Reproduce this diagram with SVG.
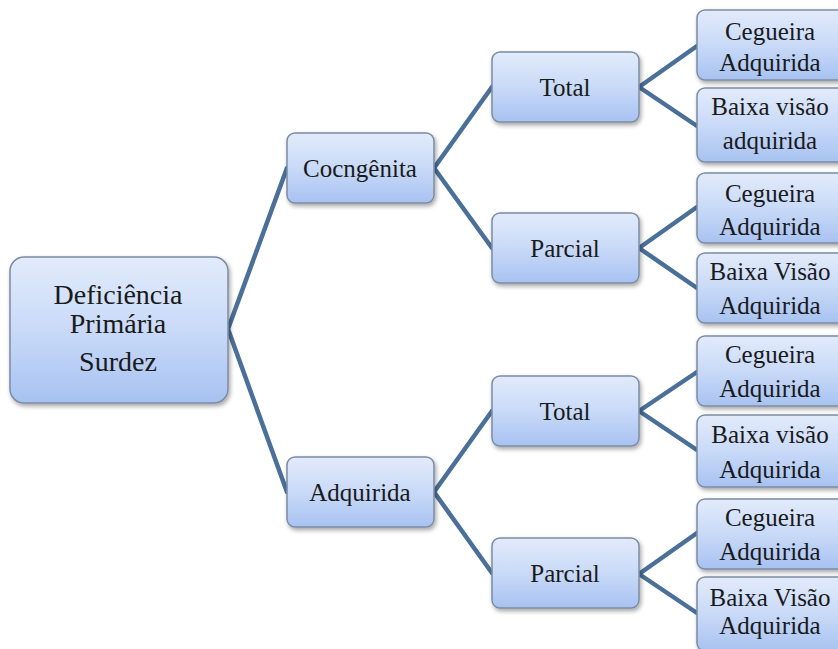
<svg xmlns="http://www.w3.org/2000/svg" width="838" height="649" viewBox="0 0 838 649">
<defs>
<linearGradient id="g" x1="0" y1="0" x2="0" y2="1">
<stop offset="0" stop-color="#e2ebfb"/>
<stop offset="0.5" stop-color="#c9daf8"/>
<stop offset="1" stop-color="#a7c2f1"/>
</linearGradient>
<filter id="sh" x="-10%" y="-10%" width="130%" height="140%">
<feDropShadow dx="1.5" dy="2.5" stdDeviation="2" flood-color="#000" flood-opacity="0.35"/>
</filter>
</defs>
<style>
.box{fill:url(#g);stroke:#7c8ca3;stroke-width:1.5;filter:url(#sh)}
.t{font-family:'Liberation Serif','Times New Roman',serif;font-size:25px;fill:#1a1a1a;text-anchor:middle}
.r{font-size:28px}
.c{fill:none;stroke:#4a7099;stroke-width:4.5;stroke-linecap:round;stroke-linejoin:round}
</style>
<rect width="838" height="649" fill="#ffffff"/>
<g id="connectors">
<polyline class="c" points="287,168 228,329 287,492"/>
<polyline class="c" points="492,87 434,168 492,248"/>
<polyline class="c" points="492,411 434,492 492,573"/>
<polyline class="c" points="697,46 639,87 697,126"/>
<polyline class="c" points="697,207 639,248 697,288"/>
<polyline class="c" points="697,372 639,411 697,450"/>
<polyline class="c" points="697,533 639,574 697,613"/>
</g>
<g id="root">
<rect class="box" x="10" y="257" width="218" height="146" rx="14"/>
<text class="t r" x="118" y="304">Deficiência</text>
<text class="t r" x="118" y="333">Primária</text>
<text class="t r" x="118" y="371">Surdez</text>
</g>
<g id="cong">
<rect class="box" x="287" y="133" width="147" height="70" rx="8"/>
<text class="t" x="360" y="177">Cocngênita</text>
</g>
<g id="adq">
<rect class="box" x="287" y="457" width="147" height="70" rx="8"/>
<text class="t" x="360" y="501">Adquirida</text>
</g>
<g id="total1">
<rect class="box" x="492" y="52" width="147" height="70" rx="8"/>
<text class="t" x="565" y="96">Total</text>
</g>
<g id="parcial1">
<rect class="box" x="492" y="213" width="147" height="70" rx="8"/>
<text class="t" x="565" y="257">Parcial</text>
</g>
<g id="total2">
<rect class="box" x="492" y="376" width="147" height="70" rx="8"/>
<text class="t" x="565" y="420">Total</text>
</g>
<g id="parcial2">
<rect class="box" x="492" y="538" width="147" height="70" rx="8"/>
<text class="t" x="565" y="582">Parcial</text>
</g>
<g id="leaf1">
<rect class="box" x="697" y="10" width="150" height="70" rx="8"/>
<text class="t" x="770" y="40">Cegueira</text>
<text class="t" x="770" y="71">Adquirida</text>
</g>
<g id="leaf2">
<rect class="box" x="697" y="88" width="150" height="74" rx="8"/>
<text class="t" x="770" y="115">Baixa visão</text>
<text class="t" x="770" y="149">adquirida</text>
</g>
<g id="leaf3">
<rect class="box" x="697" y="173" width="150" height="70" rx="8"/>
<text class="t" x="770" y="202">Cegueira</text>
<text class="t" x="770" y="235">Adquirida</text>
</g>
<g id="leaf4">
<rect class="box" x="697" y="253" width="150" height="70" rx="8"/>
<text class="t" x="770" y="280">Baixa Visão</text>
<text class="t" x="770" y="314">Adquirida</text>
</g>
<g id="leaf5">
<rect class="box" x="697" y="336" width="150" height="70" rx="8"/>
<text class="t" x="770" y="363">Cegueira</text>
<text class="t" x="770" y="397">Adquirida</text>
</g>
<g id="leaf6">
<rect class="box" x="697" y="415" width="150" height="72" rx="8"/>
<text class="t" x="770" y="443">Baixa visão</text>
<text class="t" x="770" y="478">Adquirida</text>
</g>
<g id="leaf7">
<rect class="box" x="697" y="499" width="150" height="70" rx="8"/>
<text class="t" x="770" y="526">Cegueira</text>
<text class="t" x="770" y="560">Adquirida</text>
</g>
<g id="leaf8">
<rect class="box" x="697" y="577" width="150" height="74" rx="8"/>
<text class="t" x="770" y="606">Baixa Visão</text>
<text class="t" x="770" y="634">Adquirida</text>
</g>
</svg>
